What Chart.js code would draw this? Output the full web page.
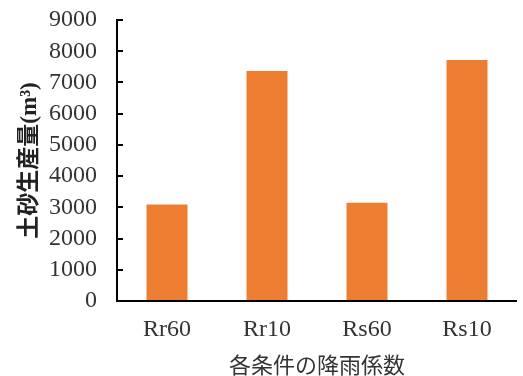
<!DOCTYPE html>
<html>
<head>
<meta charset="utf-8">
<script src="https://cdn.jsdelivr.net/npm/chart.js@4/dist/chart.umd.min.js"></script>
<style>
  html, body { margin: 0; padding: 0; background: #fff; }
  #wrap { width: 523px; height: 376px; }
</style>
</head>
<body>
<div id="wrap"><canvas id="c" width="523" height="376"></canvas></div>
<script>
// Sediment yield for each rainfall coefficient condition
const categories = ['Rr60', 'Rr10', 'Rs60', 'Rs10'];
const sedimentYield = [3090, 7370, 3150, 7720];
const yTicks = [0, 1000, 2000, 3000, 4000, 5000, 6000, 7000, 8000, 9000];

const serif = "'Liberation Serif', 'Times New Roman', serif";
const cjk = "'Noto Sans CJK JP', sans-serif";

// Axis lines plus short tick marks on the inner side of the value axis
const axisLines = {
  id: 'axisLines',
  afterDatasetsDraw(chart) {
    const { ctx, chartArea: a } = chart;
    const y = chart.scales.y;
    ctx.save();
    ctx.strokeStyle = '#000';
    ctx.lineWidth = 2;
    ctx.beginPath();
    ctx.moveTo(a.left, a.top - 1);
    ctx.lineTo(a.left, a.bottom);
    ctx.lineTo(a.right, a.bottom);
    ctx.stroke();
    y.ticks.forEach(t => {
      const py = Math.round(y.getPixelForValue(t.value));
      ctx.beginPath();
      ctx.moveTo(a.left, py);
      ctx.lineTo(a.left + 6, py);
      ctx.stroke();
    });
    ctx.restore();
  }
};

new Chart(document.getElementById('c'), {
  type: 'bar',
  data: {
    labels: categories,
    datasets: [{
      data: sedimentYield,
      backgroundColor: '#ED7D31',
      barPercentage: 0.41,
      categoryPercentage: 1.0
    }]
  },
  options: {
    responsive: false,
    animation: false,
    layout: { padding: { left: 19, right: 6, top: 20, bottom: 0 } },
    plugins: { legend: { display: false }, tooltip: { enabled: false } },
    scales: {
      x: {
        afterFit(scale) { scale.height = 75; },
        grid: { display: false, drawTicks: false },
        border: { display: false },
        ticks: { padding: 17, color: '#333', font: { family: serif, size: 24, lineHeight: 1 } },
        title: {
          display: true,
          text: '各条件の降雨係数',
          color: '#333',
          font: { family: cjk, size: 22, lineHeight: 1 },
          padding: { top: 12, bottom: 0 }
        }
      },
      y: {
        min: 0,
        max: 9000,
        afterFit(scale) { scale.width = 98; scale.paddingTop = 0; },
        afterBuildTicks(scale) { scale.ticks = yTicks.map(v => ({ value: v })); },
        grid: { display: false, drawTicks: false },
        border: { display: false },
        ticks: {
          padding: 20,
          color: '#333',
          font: { family: serif, size: 24, lineHeight: 1 },
          callback: v => String(v)
        },
        title: {
          display: true,
          text: '土砂生産量(m³)',
          color: '#222',
          font: { family: serif + ', ' + cjk, size: 23, weight: 'bold', lineHeight: 1 },
          padding: { top: 0, bottom: 10 }
        }
      }
    }
  },
  plugins: [axisLines]
});
</script>
</body>
</html>
